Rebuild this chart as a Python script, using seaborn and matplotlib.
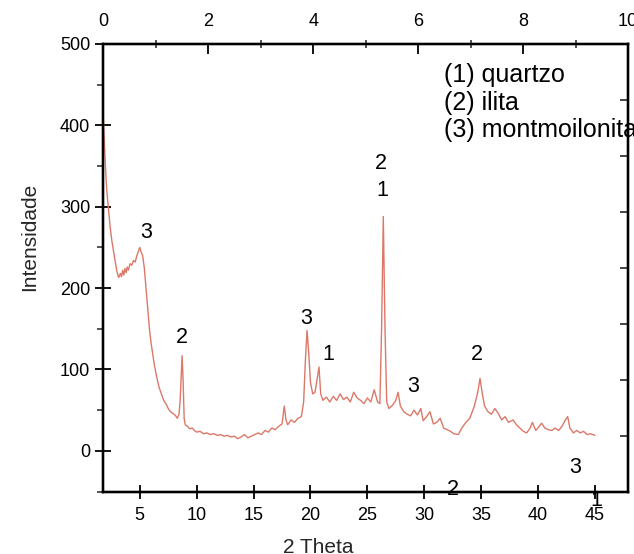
import matplotlib
matplotlib.use("Agg")
import matplotlib.pyplot as plt
import seaborn as sns
import pandas as pd
from matplotlib.ticker import MultipleLocator

sns.set_theme(style="white")
plt.rcParams["font.family"] = ["Liberation Sans", "DejaVu Sans"]

two_theta = [1.8, 1.9, 2.0, 2.1, 2.25, 2.4, 2.55, 2.7, 2.85, 3.0, 3.15, 3.3, 3.4, 3.5, 3.6, 3.7,
             3.8, 3.9, 4.0, 4.15, 4.3, 4.45, 4.6, 4.75, 4.9, 5.0, 5.1, 5.25, 5.4, 5.55, 5.7,
             5.85, 6.0, 6.15, 6.3, 6.5, 6.7, 6.9, 7.1, 7.3, 7.5, 7.7, 7.9, 8.1, 8.3, 8.45,
             8.55, 8.65, 8.72, 8.8, 8.9, 9.0, 9.2, 9.4, 9.6, 9.8, 10.0, 10.3, 10.6, 10.9,
             11.2, 11.5, 11.8, 12.1, 12.4, 12.7, 13.0, 13.3, 13.6, 13.9, 14.2, 14.5, 14.8,
             15.1, 15.4, 15.7, 16.0, 16.3, 16.6, 16.9, 17.2, 17.5, 17.7, 17.85, 18.0, 18.3,
             18.6, 18.9, 19.2, 19.4, 19.55, 19.7, 19.85, 20.0, 20.2, 20.4, 20.6, 20.75, 20.9,
             21.1, 21.4, 21.7, 22.0, 22.3, 22.6, 22.9, 23.2, 23.5, 23.8, 24.1, 24.4, 24.7,
             25.0, 25.3, 25.6, 25.9, 26.1, 26.25, 26.4, 26.55, 26.7, 26.9, 27.2, 27.5, 27.7,
             27.9, 28.2, 28.5, 28.8, 29.1, 29.4, 29.7, 29.9, 30.2, 30.5, 30.8, 31.1, 31.4,
             31.7, 32.0, 32.3, 32.6, 33.0, 33.3, 33.6, 34.0, 34.4, 34.7, 34.9, 35.1, 35.3,
             35.6, 35.9, 36.2, 36.5, 36.8, 37.1, 37.4, 37.8, 38.1, 38.4, 38.7, 39.0, 39.3,
             39.5, 39.8, 40.1, 40.3, 40.6, 40.9, 41.2, 41.5, 41.8, 42.1, 42.4, 42.6, 42.8,
             43.1, 43.4, 43.7, 44.0, 44.3, 44.6, 45.0]
intensity = [408, 375, 345, 320, 298, 275, 258, 245, 232, 220, 213, 218, 214, 222, 216, 224,
             219, 226, 222, 230, 228, 234, 232, 240, 246, 250, 245, 240, 225, 200, 175,
             150, 132, 118, 104, 90, 78, 70, 62, 58, 52, 48, 46, 44, 40, 45,
             62, 95, 117, 90, 40, 32, 30, 27, 28, 25, 23, 24, 21, 22,
             20, 21, 19, 20, 18, 19, 17, 18, 15, 17, 20, 16, 18,
             20, 22, 20, 25, 23, 28, 26, 30, 33, 55, 38, 32, 38,
             35, 40, 42, 60, 110, 148, 120, 84, 70, 72, 90, 103, 70,
             62, 66, 60, 67, 62, 70, 63, 66, 60, 72, 65, 62, 58,
             65, 60, 75, 60, 58, 150, 288, 150, 60, 52, 56, 62, 72,
             55, 48, 45, 43, 50, 44, 52, 37, 42, 48, 33, 35, 40,
             28, 26, 24, 21, 20, 28, 34, 40, 55, 72, 89, 70, 55,
             48, 45, 52, 46, 38, 42, 35, 38, 32, 28, 24, 22, 28,
             35, 25, 30, 34, 28, 26, 25, 28, 25, 30, 38, 42, 28,
             22, 25, 22, 24, 20, 21, 19]

peak_labels = ["3", "2", "3", "1", "2", "1", "3", "2", "3", "2", "1"]
peak_x = [5.56, 8.74, 19.65, 21.6, 26.17, 26.35, 28.99, 34.6, 43.3, 32.5, 45.1]
peak_y = [268, 139, 163, 118, 353, 320, 79, 118, -21, -47, -61]

legend_lines = ["(1) quartzo", "(2) ilita", "(3) montmoilonita"]

df = pd.DataFrame({"2 Theta": two_theta, "Intensidade": intensity})

fig = plt.figure(figsize=(6.34, 5.54), dpi=100)
ax = fig.add_axes([0.1630, 0.1128, 0.8275, 0.8078])
sns.lineplot(data=df, x="2 Theta", y="Intensidade", ax=ax, color="#dc7868", linewidth=1.0)

ax.set_xlim(1.8, 47.9)
ax.set_ylim(-50, 500)
ax.xaxis.set_major_locator(MultipleLocator(5))
ax.yaxis.set_major_locator(MultipleLocator(100))
ax.yaxis.set_minor_locator(MultipleLocator(50))
ax.tick_params(axis="y", which="major", direction="inout", length=12, width=1.3,
               labelsize=13, colors="black", left=True)
ax.tick_params(axis="y", which="minor", direction="out", length=4, width=1.1, left=True)
ax.tick_params(axis="x", which="major", direction="inout", length=10, width=1.3,
               labelsize=13, colors="black", bottom=True, pad=6)
ax.set_xlabel("2 Theta", fontsize=15)
ax.set_ylabel("Intensidade", fontsize=15)
ax.xaxis.set_label_coords(0.41, -0.104)
ax.yaxis.set_label_coords(-0.123, 0.569)
for s in ax.spines.values():
    s.set_color("black")
    s.set_linewidth(1.6)

for t, xx, yy in zip(peak_labels, peak_x, peak_y):
    ax.text(xx, yy, t, fontsize=15.5, ha="center", va="center", color="black", clip_on=False)

ax.text(0.649, 0.958, "\n".join(legend_lines), transform=ax.transAxes, fontsize=18,
        ha="left", va="top", linespacing=1.2, color="black")

ax_top = ax.twiny()
ax_top.set_xlim(0, 10)
ax_top.xaxis.set_major_locator(MultipleLocator(2))
ax_top.xaxis.set_minor_locator(MultipleLocator(1))
ax_top.tick_params(axis="x", which="major", direction="in", length=7, width=1.3,
                   labelsize=13, top=True, colors="black", pad=10)
ax_top.tick_params(axis="x", which="minor", direction="inout", length=6, width=1.1, top=True)
ax_top.grid(False)

ax_right = ax.twinx()
ax_right.set_ylim(0, 8)
ax_right.yaxis.set_major_locator(MultipleLocator(1))
ax_right.tick_params(axis="y", which="major", direction="in", length=6, width=1.2,
                     right=True, labelright=False)
ax_right.grid(False)
for a in (ax_top, ax_right):
    for s in a.spines.values():
        s.set_color("black")
        s.set_linewidth(1.6)

fig.savefig("out.png", dpi=100, facecolor="white")
